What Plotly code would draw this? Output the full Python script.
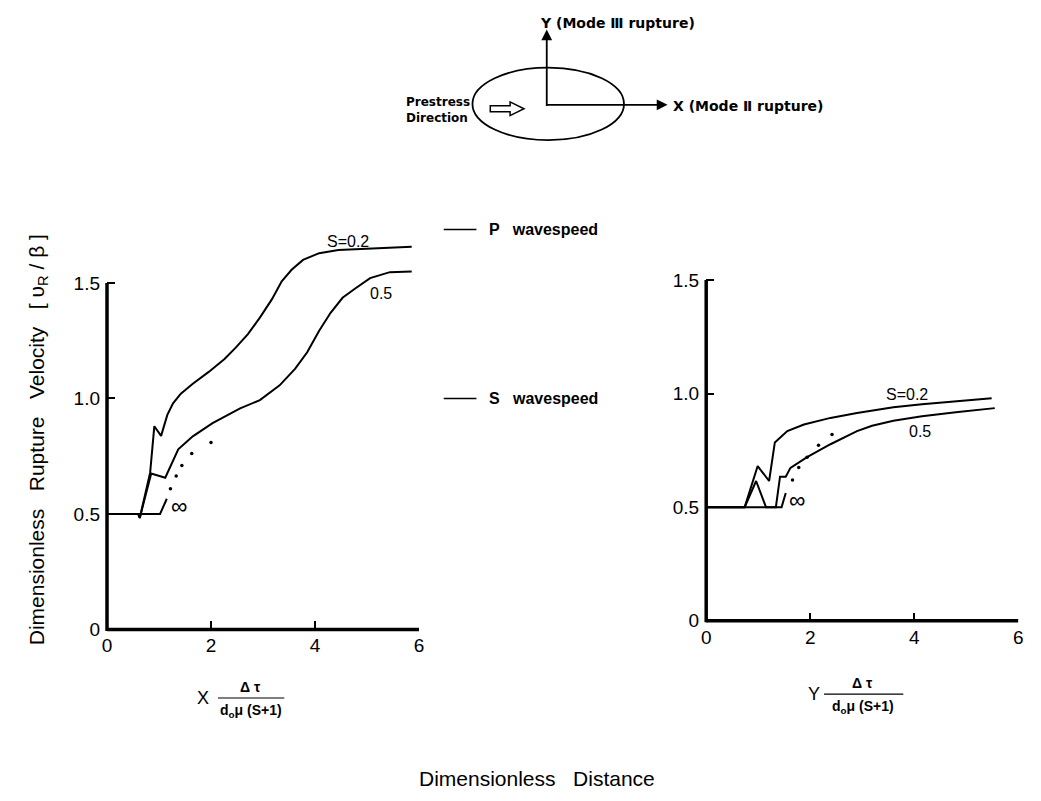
import plotly.graph_objects as go

W, H = 1041, 801

# ---------------- data ----------------
# Left panel: X direction (Mode II rupture)
left_s02_x = [0, 0.60, 0.63, 0.83, 0.91, 1.04, 1.16, 1.27, 1.42, 1.65, 1.95, 2.26, 2.48, 2.71, 2.94, 3.17, 3.36, 3.55, 3.77, 4.08, 4.45, 5.21, 5.86]
left_s02_y = [0.5, 0.5, 0.483, 0.68, 0.88, 0.838, 0.929, 0.979, 1.021, 1.064, 1.114, 1.171, 1.221, 1.279, 1.35, 1.429, 1.507, 1.557, 1.60, 1.629, 1.643, 1.650, 1.657]
left_s05_x = [0, 0.60, 0.63, 0.85, 1.12, 1.37, 1.65, 2.03, 2.56, 2.94, 3.32, 3.62, 3.85, 4.08, 4.30, 4.53, 4.76, 5.06, 5.44, 5.86]
left_s05_y = [0.5, 0.5, 0.483, 0.675, 0.657, 0.78, 0.836, 0.893, 0.957, 0.993, 1.057, 1.129, 1.20, 1.293, 1.371, 1.436, 1.474, 1.521, 1.547, 1.55]
left_inf_x = [0, 1.02, 1.15]
left_inf_y = [0.5, 0.5, 0.566]
left_inf_dots_x = [1.22, 1.33, 1.44, 1.63, 2.00]
left_inf_dots_y = [0.609, 0.665, 0.71, 0.762, 0.809]

# Right panel: Y direction (Mode III rupture)
right_s02_x = [0, 0.74, 0.99, 1.21, 1.32, 1.56, 1.88, 2.39, 2.90, 3.19, 3.60, 4.15, 4.80, 5.49]
right_s02_y = [0.5, 0.5, 0.681, 0.615, 0.785, 0.835, 0.864, 0.893, 0.915, 0.926, 0.94, 0.953, 0.966, 0.979]
right_s05_x = [0, 0.74, 0.96, 1.15, 1.34, 1.42, 1.53, 1.62, 1.94, 2.39, 2.90, 3.19, 3.60, 4.15, 4.80, 5.55]
right_s05_y = [0.5, 0.5, 0.615, 0.5, 0.5, 0.634, 0.634, 0.673, 0.72, 0.777, 0.835, 0.858, 0.88, 0.90, 0.918, 0.936]
right_inf_x = [0, 1.45, 1.53]
right_inf_y = [0.5, 0.5, 0.562]
right_inf_dots_x = [1.66, 1.78, 1.94, 2.16, 2.42]
right_inf_dots_y = [0.62, 0.675, 0.72, 0.773, 0.82]

x_ticks = [0, 2, 4, 6]
y_ticks = [0, 0.5, 1.0, 1.5]
y_tick_text = ["0", "0.5", "1.0", "1.5"]

left_labels = [("S=0.2", 4.64, 1.68), ("0.5", 5.27, 1.455), ("∞", 1.38, 0.534)]
right_labels = [("S=0.2", 3.86, 0.995), ("0.5", 4.12, 0.834), ("∞", 1.75, 0.533)]

wave_speed_values = [1.732, 1.0]
wave_speed_names = ["P   wavespeed", "S   wavespeed"]

# ---------------- layout geometry (pixels) ----------------
def px(x):
    return x / W

def py(y):
    return 1 - y / H

L_X0, L_X6 = 103, 418
L_Y0, L_UNIT = 637, 236
L_YMAX = 1.78
R_X0, R_X6 = 708, 1023
R_Y0, R_UNIT = 628, 232
R_YMAX = 1.52

FONT = "Liberation Sans"
BFONT = "DejaVu Sans"
line_style = dict(color="black", width=2)

fig = go.Figure()

def add_panel(xs_list, ys_list, dots_x, dots_y, xa, ya):
    for xs, ys in zip(xs_list, ys_list):
        fig.add_trace(go.Scatter(x=xs, y=ys, mode="lines", line=line_style,
                                 xaxis=xa, yaxis=ya, showlegend=False, hoverinfo="skip"))
    fig.add_trace(go.Scatter(x=dots_x, y=dots_y, mode="markers",
                             marker=dict(color="black", size=3.5),
                             xaxis=xa, yaxis=ya, showlegend=False, hoverinfo="skip"))

add_panel([left_s02_x, left_s05_x, left_inf_x], [left_s02_y, left_s05_y, left_inf_y],
          left_inf_dots_x, left_inf_dots_y, "x", "y")
add_panel([right_s02_x, right_s05_x, right_inf_x], [right_s02_y, right_s05_y, right_inf_y],
          right_inf_dots_x, right_inf_dots_y, "x2", "y2")

axis_common = dict(showgrid=False, zeroline=False, showline=False,
                   ticks="inside", ticklen=8, tickwidth=1.5, tickcolor="black",
                   tickfont=dict(family=FONT, size=19, color="black"), fixedrange=True)

fig.update_layout(
    width=W, height=H,
    margin=dict(l=0, r=0, t=0, b=0),
    paper_bgcolor="white", plot_bgcolor="white",
    showlegend=False,
    xaxis=dict(domain=[px(L_X0), px(L_X6)], range=[0, 6], tickvals=x_ticks, anchor="y",
               ticklabelstandoff=3, **axis_common),
    yaxis=dict(domain=[py(L_Y0), py(L_Y0 - L_YMAX * L_UNIT)], range=[0, L_YMAX],
               tickvals=y_ticks, ticktext=y_tick_text, anchor="x", ticklabelstandoff=6, **axis_common),
    xaxis2=dict(domain=[px(R_X0), px(R_X6)], range=[0, 6], tickvals=x_ticks, anchor="y2",
                ticklabelstandoff=3, **axis_common),
    yaxis2=dict(domain=[py(R_Y0), py(R_Y0 - R_YMAX * R_UNIT)], range=[0, R_YMAX],
                tickvals=y_ticks, ticktext=y_tick_text, anchor="x2", ticklabelstandoff=6, **axis_common),
)

shapes = []
annotations = []

def note(text, xp, yp, size, family=FONT, xanchor="center", yanchor="middle", **kw):
    annotations.append(dict(text=text, x=px(xp), y=py(yp), xref="paper", yref="paper",
                            xanchor=xanchor, yanchor=yanchor, showarrow=False,
                            font=dict(family=family, size=size, color="black"), **kw))

# axis lines (paper coordinates so they are not clipped)
def axis_lines(x0p, x6p, y0p, unit):
    top = y0p - 1.5 * unit
    shapes.append(dict(type="line", xref="paper", yref="paper", x0=px(x0p), x1=px(x0p),
                       y0=py(y0p + 1.5), y1=py(top), line=dict(color="black", width=3.5)))
    shapes.append(dict(type="line", xref="paper", yref="paper", x0=px(x0p), x1=px(x6p),
                       y0=py(y0p), y1=py(y0p), line=dict(color="black", width=3.5)))

axis_lines(L_X0, L_X6, L_Y0, L_UNIT)
axis_lines(R_X0, R_X6, R_Y0, R_UNIT)

# curve labels
for labels, xr, yr in ((left_labels, "x", "y"), (right_labels, "x2", "y2")):
    for txt, x, y in labels:
        annotations.append(dict(text=txt, x=x, y=y, xref=xr, yref=yr, showarrow=False,
                                xanchor="center", yanchor="middle",
                                font=dict(family=FONT, size=23 if txt == "∞" else 16, color="black")))

# wave speed reference marks (to the right of the left panel)
for val, name in zip(wave_speed_values, wave_speed_names):
    ypix = L_Y0 - val * L_UNIT
    shapes.append(dict(type="line", xref="paper", yref="paper", x0=px(443), x1=px(476),
                       y0=py(ypix), y1=py(ypix), line=dict(color="black", width=1.5)))
    note("<b>" + name + "</b>", 487, ypix, 16, xanchor="left")

# y axis title
note("Dimensionless   Rupture   Velocity   [ υ<sub>R</sub> / β ]", 33, 443, 21, textangle=-90)

# x axis fraction titles
def frac_title(letter, lx, nx, line_x0, line_x1, line_y):
    note(letter, lx, line_y, 18)
    note("<b>Δ τ</b>", nx, line_y - 11, 14)
    note("<b>d<sub>o</sub>μ (S+1)</b>", nx, line_y + 13, 14)
    shapes.append(dict(type="line", xref="paper", yref="paper", x0=px(line_x0), x1=px(line_x1),
                       y0=py(line_y), y1=py(line_y), line=dict(color="black", width=1.2)))

frac_title("X", 200, 248, 215, 282, 707)
frac_title("Y", 817, 866, 827, 907, 703)

note("Dimensionless   Distance", 537, 789, 21)

# ---------------- top schematic ----------------
shapes.append(dict(type="circle", xref="paper", yref="paper", x0=px(472), x1=px(625),
                   y0=py(137), y1=py(63), line=dict(color="black", width=1.8)))
annotations.append(dict(x=px(547), y=py(24), xref="paper", yref="paper", ax=0, ay=78,
                        text="", showarrow=True, arrowhead=2, arrowsize=1.2, arrowwidth=1.8,
                        arrowcolor="black"))
annotations.append(dict(x=px(669), y=py(101), xref="paper", yref="paper", ax=-122, ay=0,
                        text="", showarrow=True, arrowhead=2, arrowsize=1.2, arrowwidth=1.8,
                        arrowcolor="black"))
note("<b>Y (Mode Ⅲ rupture)</b>", 538, 17, 14, family=BFONT, xanchor="left")
note("<b>X (Mode Ⅱ rupture)</b>", 672, 102, 14, family=BFONT, xanchor="left")
note("<b>Prestress<br>Direction</b>", 472, 106, 12, family=BFONT, xanchor="right", align="left")

pts = [(490, 102), (510, 102), (510, 98), (524, 105), (510, 112), (510, 108), (490, 108)]
path = "M " + " L ".join(f"{px(a)},{py(b)}" for a, b in pts) + " Z"
shapes.append(dict(type="path", xref="paper", yref="paper", path=path,
                   line=dict(color="black", width=1.5), fillcolor="white"))

fig.update_layout(shapes=shapes, annotations=annotations)

fig.write_html("out.html")
